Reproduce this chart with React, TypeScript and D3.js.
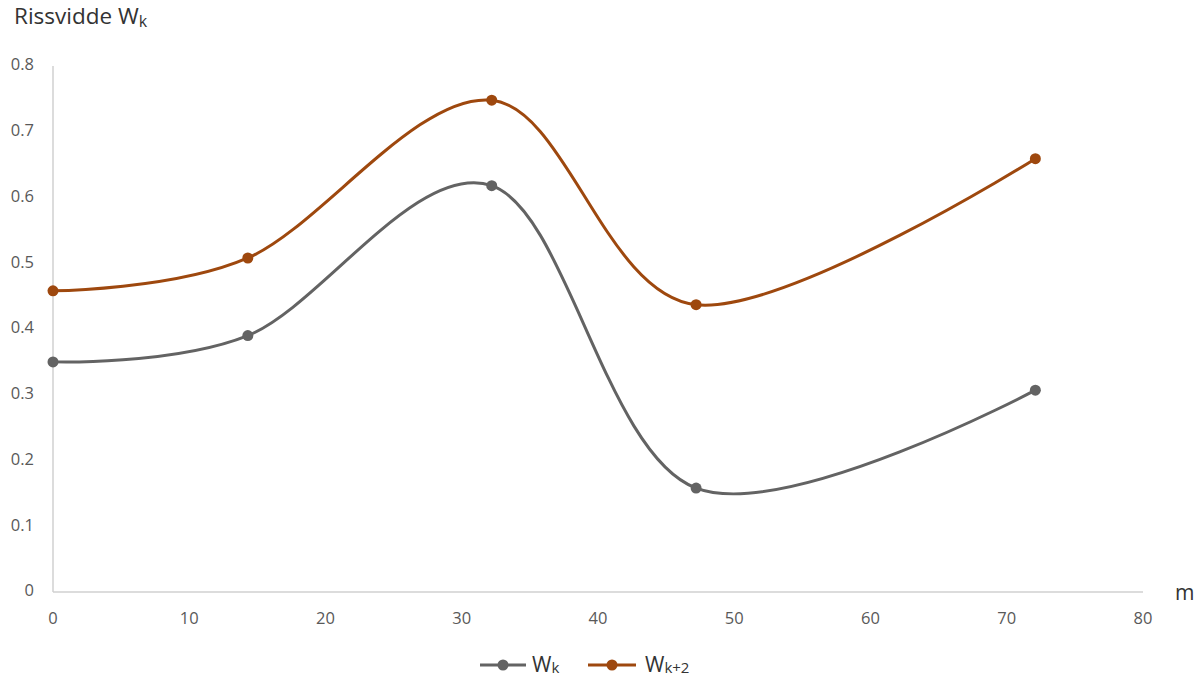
import React from "react";
import * as d3 from "d3";

const xValues = [0, 14.3, 32.2, 47.2, 72.1];
const wk = [0.35, 0.39, 0.618, 0.158, 0.307];
const wk2 = [0.458, 0.508, 0.748, 0.437, 0.659];
const yTicks = [0, 0.1, 0.2, 0.3, 0.4, 0.5, 0.6, 0.7, 0.8];
const xTicks = [0, 10, 20, 30, 40, 50, 60, 70, 80];

const GRAY = "#636363";
const ORANGE = "#9e480e";
const FONT = "'Open Sans', 'Noto Sans', sans-serif";

export default function App() {
  const W = 1204, H = 681;
  const x = d3.scaleLinear().domain([0, 80]).range([53, 1143]);
  const y = d3.scaleLinear().domain([0, 0.8]).range([592, 66]);
  const line = d3
    .line<number>()
    .x((_, i) => x(xValues[i]))
    .y((d) => y(d))
    .curve(d3.curveCatmullRom.alpha(0));

  const series = [
    { name: "k", vals: wk, color: GRAY },
    { name: "k+2", vals: wk2, color: ORANGE },
  ];

  return (
    <svg width={W} height={H} style={{ position: "absolute", left: 0, top: 0, background: "#fff" }}>
      <rect x={0} y={0} width={W} height={H} fill="#fff" />
      <line x1={x(0)} x2={x(0)} y1={y(0.8)} y2={y(0)} stroke="#d0d0d0" strokeWidth={1.5} />
      <line x1={x(0)} x2={x(80)} y1={y(0)} y2={y(0)} stroke="#d0d0d0" strokeWidth={1.5} />
      {yTicks.map((t) => (
        <text key={t} x={34} y={y(t)} textAnchor="end" dominantBaseline="middle" fontFamily={FONT} fontSize={16.5} fill="#595959">
          {t === 0 ? "0" : t.toFixed(1)}
        </text>
      ))}
      {xTicks.map((t) => (
        <text key={t} x={x(t)} y={620} textAnchor="middle" dominantBaseline="middle" fontFamily={FONT} fontSize={16.5} fill="#595959">
          {t}
        </text>
      ))}
      <text x={1175} y={600} fontFamily={FONT} fontSize={21} fill="#333">m</text>
      <text x={14} y={24} fontFamily={FONT} fontSize={22.5} fill="#333">
        Rissvidde W<tspan fontSize={16} dy={3}>k</tspan>
      </text>
      {series.map((s) => (
        <g key={s.name}>
          <path d={line(s.vals) || ""} fill="none" stroke={s.color} strokeWidth={3} strokeLinecap="round" />
          {s.vals.map((v, i) => (
            <circle key={i} cx={x(xValues[i])} cy={y(v)} r={5.5} fill={s.color} />
          ))}
        </g>
      ))}
      <g>
        <line x1={480} x2={526} y1={665} y2={665} stroke={GRAY} strokeWidth={3} />
        <circle cx={503} cy={665} r={5.5} fill={GRAY} />
        <text x={532} y={672} fontFamily={FONT} fontSize={21} fill="#333">
          W<tspan fontSize={15} dy={1}>k</tspan>
        </text>
        <line x1={588} x2={636} y1={665} y2={665} stroke={ORANGE} strokeWidth={3} />
        <circle cx={612} cy={665} r={5.5} fill={ORANGE} />
        <text x={645} y={672} fontFamily={FONT} fontSize={21} fill="#333">
          W<tspan fontSize={15} dy={1}>k+2</tspan>
        </text>
      </g>
    </svg>
  );
}
